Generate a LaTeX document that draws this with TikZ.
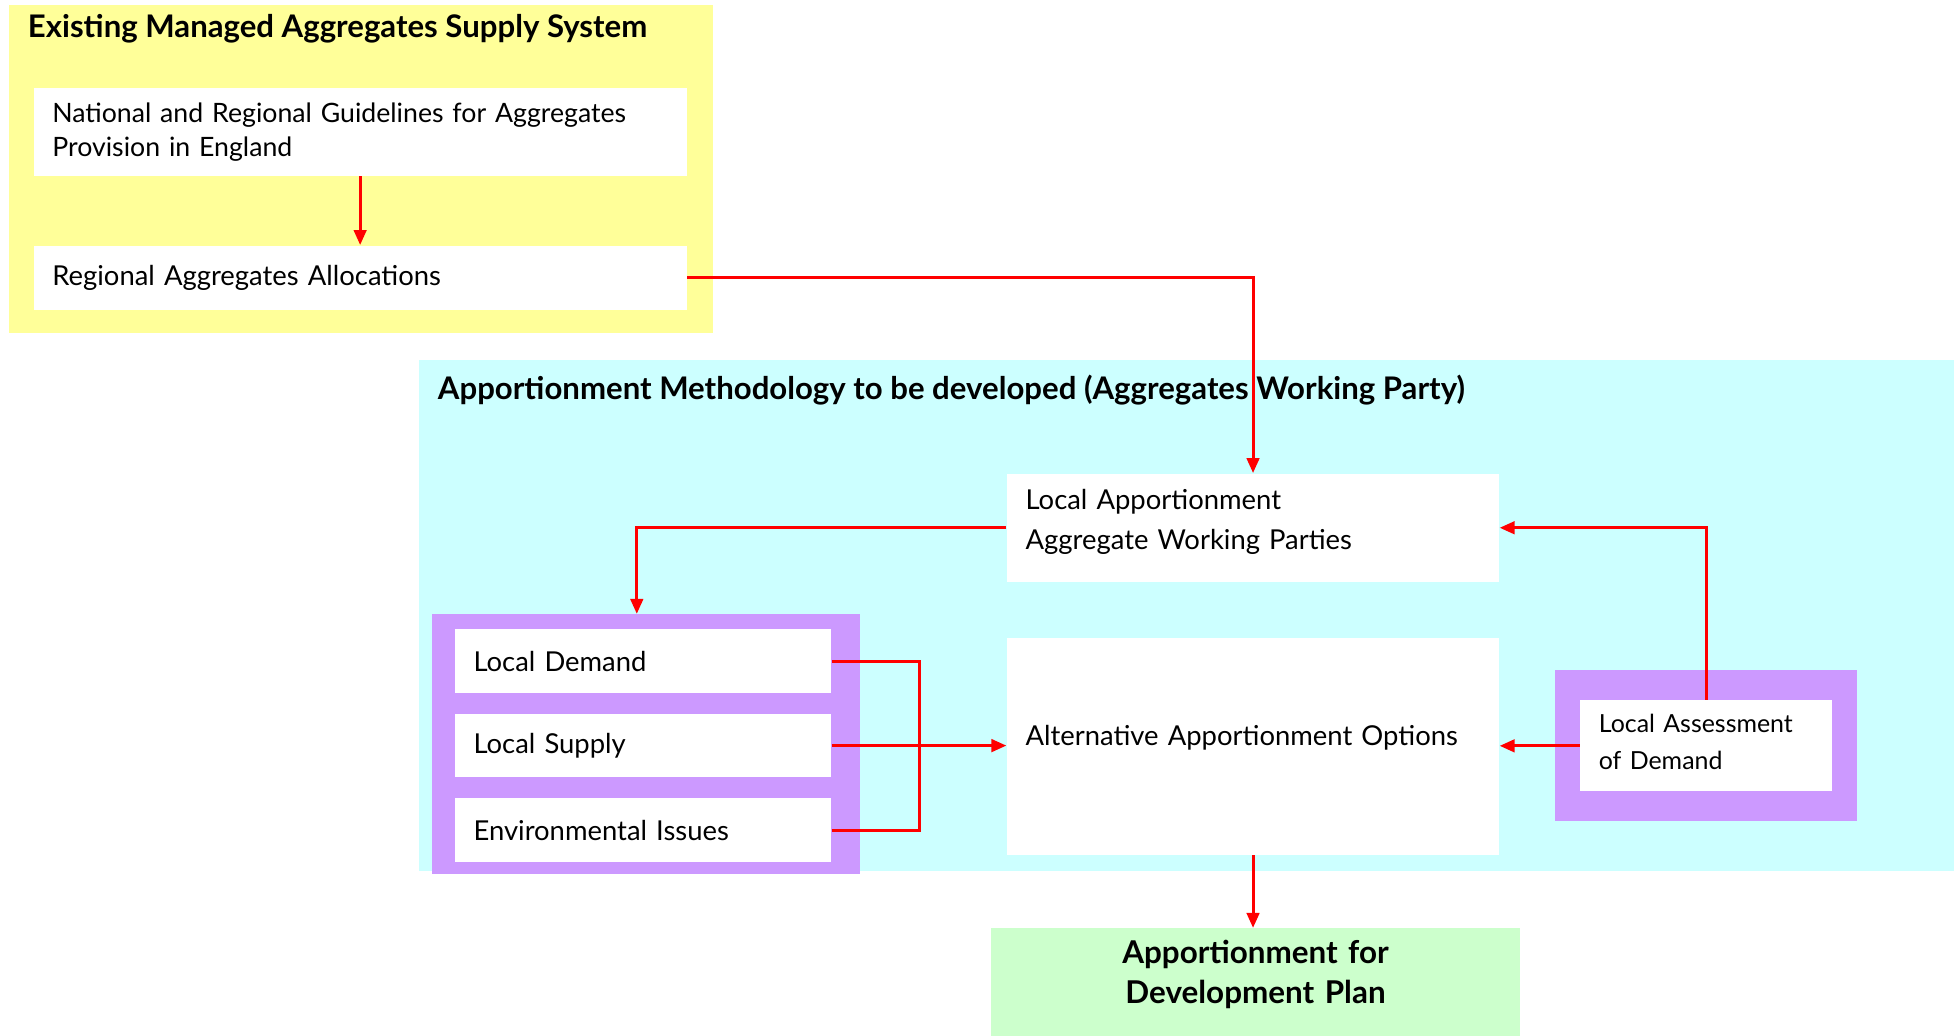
\documentclass[tikz,border=0pt]{standalone}
\usepackage{fontspec}
\setmainfont{Lato}
\usetikzlibrary{arrows.meta,positioning}

\definecolor{supplyyellow}{HTML}{FFFF99}
\definecolor{methodcyan}{HTML}{CCFFFF}
\definecolor{groupviolet}{HTML}{CC99FF}
\definecolor{resultgreen}{HTML}{CCFFCC}

\tikzstyle{panel} = [
    rectangle,
    inner sep=0pt,
    draw=none,
]
\tikzstyle{paneltitle} = [
    anchor=west,
    inner sep=0pt,
    font=\fontsize{12.5}{15}\selectfont\bfseries,
]
\tikzstyle{whitebox} = [
    rectangle,
    fill=white,
    align=left,
    inner xsep=7.5pt,
    inner ysep=0pt,
    font=\fontsize{11}{14}\selectfont,
]
\tikzstyle{arrow} = [
    red,
    line width=1.2pt,
    ->,
    >={Triangle[length=6pt,width=5pt]}
]
\tikzstyle{link} = [
    red,
    line width=1.2pt,
]

\begin{document}
\begin{tikzpicture}[x=0.5pt,y=-0.5pt]
        \useasboundingbox (0,0) rectangle (1568,831.3);
        %% coloured panels
        \node (existing) [panel, fill=supplyyellow, minimum width=282.5pt, minimum height=131.5pt] at (289.5,135.5) {};
        \node (method) [panel, fill=methodcyan, minimum width=616pt, minimum height=205pt] at (952,494) {};
        \node (existingtitle) [paneltitle] at (22,23) {Existing Managed Aggregates Supply System};
        \node (methodtitle) [paneltitle] at (351,313) {Apportionment Methodology to be developed (Aggregates Working Party)};
        \node (factors) [panel, fill=groupviolet, minimum width=171.5pt, minimum height=104pt] at (518.5,597) {};
        \node (assessment) [panel, fill=groupviolet, minimum width=121pt, minimum height=60.5pt] at (1369,598.5) {};
        %% boxes
        \node (guidelines) [whitebox, text width=247pt, minimum height=35pt, font=\fontsize{10.7}{14}\selectfont] at (289,106) {National and Regional Guidelines for Aggregates\\Provision in England};
        \node (allocations) [whitebox, text width=247pt, minimum height=26pt] at (289,223) {Regional Aggregates Allocations};
        \node (parties) [whitebox, text width=182.5pt, minimum height=43.5pt, text depth=23pt, font=\fontsize{11}{16}\selectfont] at (1005.5,423.5) {Local Apportionment\\Aggregate Working Parties};
        \node (options) [whitebox, text width=182.5pt, minimum height=87pt, text depth=9pt] at (1005.5,599) {Alternative Apportionment Options};
        \node (demand) [whitebox, text width=136pt, minimum height=25.5pt] at (516,530.5) {Local Demand};
        \node (supply) [whitebox, text width=136pt, minimum height=25.5pt, below=8pt of demand] {Local Supply};
        \node (issues) [whitebox, text width=136pt, minimum height=25.5pt, below=8pt of supply] {Environmental Issues};
        \node (localdemand) [whitebox, text width=86pt, minimum height=36.5pt, text depth=18pt, font=\fontsize{10}{15}\selectfont] at (1369,598.5) {Local Assessment\\of Demand};
        \node (plan) [panel, fill=resultgreen, minimum width=212.5pt, minimum height=43pt, text width=197.5pt, text depth=24pt, align=center, font=\fontsize{12.6}{16}\selectfont\bfseries] at (1007.5,788) {Apportionment for\\Development Plan};
        %% connectors
        \coordinate (merge) at (738,598);
        \draw [arrow] (guidelines) -- (allocations);
        \draw [arrow] (allocations.east) -| (parties.north);
        \draw [arrow] (parties.west) -| ([xshift=-3.75pt]factors.north);
        \draw [link] (demand.east) -| (merge);
        \draw [link] (issues.east) -| (merge);
        \draw [arrow] (supply.east) -- (supply.east -| options.west);
        \draw [arrow] (localdemand.north) |- (parties.east);
        \draw [arrow] (localdemand.west) -- (localdemand.west -| options.east);
        \draw [arrow] (options.south) -- (options.south |- plan.north);
    \end{tikzpicture}
\end{document}
